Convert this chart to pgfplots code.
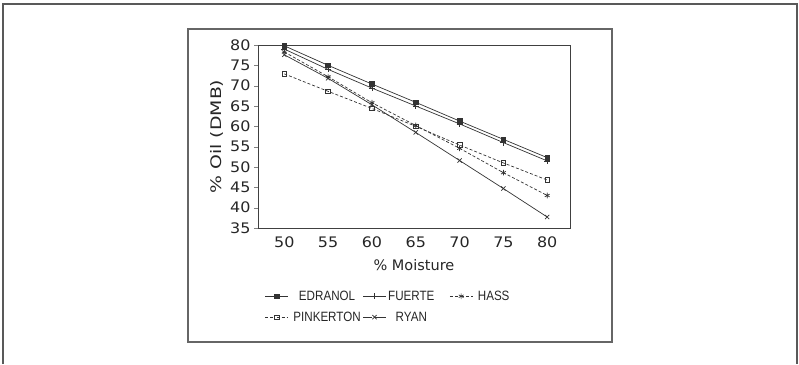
\documentclass[border=0pt]{standalone}
\usepackage{fontspec}
\setmainfont{DejaVu Sans}
\newfontfamily\legfont[FakeStretch=0.86]{Liberation Sans}
\newfontfamily\ticfont[FakeStretch=1.1]{DejaVu Sans}
\newfontfamily\ylabfont[FakeStretch=1.3]{DejaVu Sans}
\usepackage{pgfplots}
\pgfplotsset{compat=1.18}
\begin{document}
\begin{tikzpicture}
\useasboundingbox (0pt,0pt) rectangle (799pt,364pt);
\draw[line width=2pt, black!65] (3pt,0pt) -- (3pt,360pt) -- (797pt,360pt) -- (797pt,0pt);
\draw[line width=1.3pt, black!60] (188pt,22pt) rectangle (612pt,335pt);
\begin{axis}[
  at={(258pt,136pt)}, anchor=south west,
  scale only axis, width=312pt, height=183pt,
  xmin=47, xmax=82.6, ymin=35, ymax=80,
  xtick={50,55,...,80}, ytick={35,40,...,80},
  ytick pos=left,
  tick align=outside, major tick length=4pt,
  xtick style={draw=none},
  axis line style={black!75, line width=0.8pt},
  /pgf/number format/assume math mode=true,
  tick label style={font=\ticfont\fontsize{14.5}{14.5}\selectfont, black!85},
  xticklabel style={yshift=-1pt},
  label style={font=\fontsize{14.5}{15}\selectfont, black!85},
  xlabel={\% Moisture},
  ylabel={\ylabfont\% Oil (DMB)},
  xlabel style={at={(axis description cs:0.5,-0.2)}, anchor=center},
  ylabel style={at={(axis description cs:-0.131,0.5)}, anchor=center},
  legend columns=3,
  legend style={draw=none, fill=none, at={(axis description cs:0.012,-0.32)}, anchor=north west,
    font=\legfont\fontsize{13.5}{14}\selectfont, text=black!85,
    /tikz/column 1/.style={column sep=3pt},
    /tikz/column 2/.style={column sep=0pt},
    /tikz/column 3/.style={column sep=0pt},
    /tikz/column 4/.style={column sep=13pt},
    /tikz/column 5/.style={column sep=3pt},
    row sep=6pt},
  legend image code/.code={\draw[#1] (0cm,0cm) -- (0.3cm,0cm) plot coordinates {(0.4cm,0cm)} -- (0.8cm,0cm);},
  every axis plot/.append style={line width=0.7pt, black!80},
]
\addplot[mark=square*, mark size=2.3pt, mark options={solid, fill=black!80}] coordinates {
 (50,79.8) (55,75.0) (60,70.4) (65,65.9) (70,61.3) (75,56.8) (80,52.3)};
\addlegendentry{EDRANOL}
\addplot[mark=+, mark size=3pt, mark options={solid}] coordinates {
 (50,79.0) (55,74.0) (60,69.4) (65,65.0) (70,60.6) (75,56.0) (80,51.5)};
\addlegendentry{FUERTE}
\addplot[densely dashed, mark=asterisk, mark size=2.8pt, mark options={solid}] coordinates {
 (50,78.3) (55,72.2) (60,65.8) (65,60.2) (70,54.6) (75,48.6) (80,43.0)};
\addlegendentry{HASS}
\addplot[densely dashed, mark=square, mark size=2.3pt, mark options={solid}] coordinates {
 (50,72.9) (55,68.6) (60,64.4) (65,60.0) (70,55.4) (75,51.0) (80,46.8)};
\addlegendentry{PINKERTON}
\addplot[mark=x, mark size=3pt, mark options={solid}] coordinates {
 (50,77.6) (55,71.8) (60,65.3) (65,58.5) (70,51.6) (75,44.7) (80,37.7)};
\addlegendentry{RYAN}
\end{axis}
\end{tikzpicture}
\end{document}
